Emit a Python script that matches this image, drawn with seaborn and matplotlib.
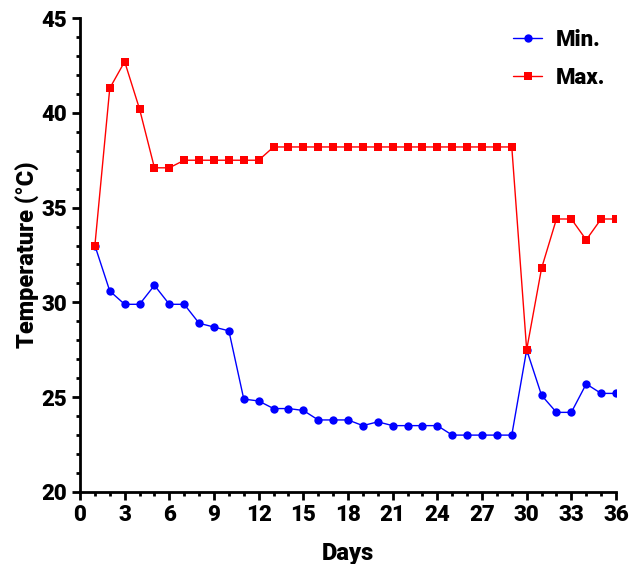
import numpy as np
import pandas as pd
import matplotlib.pyplot as plt
from matplotlib.ticker import MultipleLocator
import seaborn as sns

days = list(range(1, 37))
t_min = [33.0, 30.6, 29.9, 29.9, 30.9, 29.9, 29.9, 28.9, 28.7, 28.5,
         24.9, 24.8, 24.4, 24.4, 24.3, 23.8, 23.8, 23.8, 23.5, 23.7,
         23.5, 23.5, 23.5, 23.5, 23.0, 23.0, 23.0, 23.0, 23.0, 27.5,
         25.1, 24.2, 24.2, 25.7, 25.2, 25.2]
t_max = [33.0, 41.3, 42.7, 40.2, 37.1, 37.1, 37.5, 37.5, 37.5, 37.5,
         37.5, 37.5, 38.2, 38.2, 38.2, 38.2, 38.2, 38.2, 38.2, 38.2,
         38.2, 38.2, 38.2, 38.2, 38.2, 38.2, 38.2, 38.2, 38.2, 27.5,
         31.8, 34.4, 34.4, 33.3, 34.4, 34.4]

df = pd.DataFrame({"Days": days * 2,
                   "Temp": t_min + t_max,
                   "series": ["Min."] * 36 + ["Max."] * 36})

sns.set_style("ticks", {"axes.edgecolor": "black", "xtick.color": "black",
                        "ytick.color": "black", "text.color": "black",
                        "axes.labelcolor": "black"})
plt.rcParams['font.family'] = ['Roboto', 'DejaVu Sans']
plt.rcParams['font.weight'] = 'heavy'

fig = plt.figure(figsize=(6.41, 5.64), dpi=100)
ax = fig.add_axes([0.1248, 0.1277, 0.8362, 0.8403])

sns.lineplot(data=df, x="Days", y="Temp", hue="series", style="series",
             palette={"Min.": "#0000ff", "Max.": "#ff0000"},
             markers={"Min.": "o", "Max.": "s"}, dashes=False,
             markersize=6, markeredgewidth=0, linewidth=1, ax=ax)

ax.set_xlim(0, 36)
ax.set_ylim(20, 45)
ax.xaxis.set_major_locator(MultipleLocator(3))
ax.xaxis.set_minor_locator(MultipleLocator(1))
ax.yaxis.set_major_locator(MultipleLocator(5))
ax.yaxis.set_minor_locator(MultipleLocator(1))
ax.tick_params(which='major', length=6, width=2, labelsize=16, pad=3)
ax.tick_params(which='minor', length=3, width=2)
for lab in ax.get_xticklabels() + ax.get_yticklabels():
    lab.set_fontweight('heavy')
for s in ['left', 'bottom']:
    ax.spines[s].set_linewidth(2)
sns.despine(ax=ax)

ax.set_xlabel("Days", fontsize=17, fontweight='heavy', labelpad=11)
ax.set_ylabel("Temperature (°C)", fontsize=17, fontweight='heavy', labelpad=1)

leg = ax.legend(loc='upper right', frameon=False, fontsize=16,
                handlelength=1.3, handletextpad=0.6,
                borderaxespad=0.1, labelspacing=0.7)
for t in leg.get_texts():
    t.set_fontweight('heavy')

fig.savefig("out.png", dpi=100)
